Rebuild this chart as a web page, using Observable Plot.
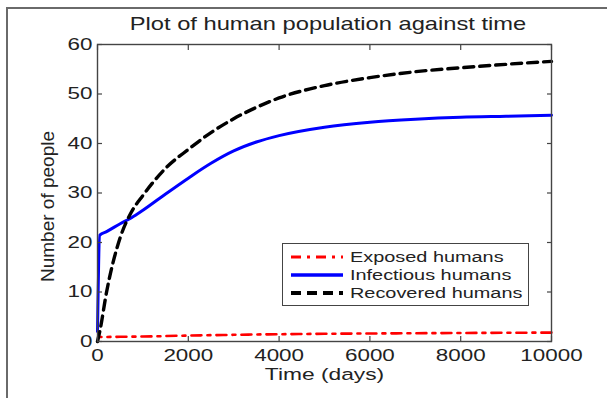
<!DOCTYPE html>
<html><head><meta charset="utf-8">
<script src="https://cdn.jsdelivr.net/npm/d3@7"></script>
<script src="https://cdn.jsdelivr.net/npm/@observablehq/plot@0.6"></script>
<style>
body{margin:0;background:#fff;}
#wrap{position:relative;width:607px;height:398px;overflow:hidden;font-family:"Liberation Sans",Arial,sans-serif;color:#222;}
#frame{position:absolute;left:6px;top:7px;width:640px;height:420px;border-top:2px solid #6a6a6a;border-left:2px solid #6a6a6a;}
#title{position:absolute;left:0;width:656px;top:16px;text-align:center;font-size:17.7px;line-height:17.7px;white-space:nowrap;transform-origin:328px 50%;transform:scaleX(1.34);}
#chart{position:absolute;left:0;top:0;}
#legend{position:absolute;left:282px;top:243px;width:247px;height:63px;box-sizing:border-box;border:1.3px solid #444;background:#fff;}
.sample{position:absolute;left:7px;width:54px;height:8px;}
.ltext{position:absolute;left:67px;font-size:14px;line-height:14px;white-space:nowrap;transform-origin:0 50%;transform:scaleX(1.42);}
</style></head>
<body>
<div id="wrap">
<div id="frame"></div>
<div id="chart"></div>
<div id="title"></div>
<div id="legend"></div>
</div>
<script>
const titleText = "Plot of human population against time";
const xLabel = "Time (days)";
const yLabel = "Number of people";
const seriesNames = ["Exposed humans", "Infectious humans", "Recovered humans"];
const xTicks = [0, 2000, 4000, 6000, 8000, 10000];
const yTicks = [0, 10, 20, 30, 40, 50, 60];
const time = [0, 50, 200, 500, 750, 1000, 1500, 2000, 2500, 3000, 3500, 4000, 5000, 6000, 7000, 8000, 9000, 10000];
const exposed = [2.5, 0.9, 0.92, 0.95, 0.98, 1.0, 1.1, 1.2, 1.28, 1.35, 1.42, 1.47, 1.56, 1.62, 1.67, 1.72, 1.76, 1.8];
const infectious = [2, 21.5, 22.2, 23.8, 25.0, 26.5, 29.8, 33.0, 36.0, 38.5, 40.3, 41.6, 43.3, 44.3, 44.9, 45.3, 45.5, 45.7];
const recovered = [0, 2, 10, 21, 26.2, 29.5, 35, 38.8, 42.2, 45, 47.3, 49.2, 51.7, 53.3, 54.5, 55.3, 56.0, 56.6];

const styles = [
  {stroke: "#ff0000", strokeWidth: 2.6, dash: "10,6,3,6"},
  {stroke: "#0000ff", strokeWidth: 3, dash: null},
  {stroke: "#000000", strokeWidth: 3.4, dash: "10,6"}
];
const seriesVals = [exposed, infectious, recovered];
const data = seriesVals.flatMap((vals, i) => time.map((t, j) => ({t, v: vals[j], s: seriesNames[i]})));

const lineMarks = seriesNames.map((name, i) =>
  Plot.line(data.filter(d => d.s === name), {x: "t", y: "v", curve: "monotone-x", stroke: styles[i].stroke, strokeWidth: styles[i].strokeWidth, strokeDasharray: styles[i].dash})
);
const axisColor = "#444";
const blank = () => "";
const plot = Plot.plot({
  width: 607, height: 398,
  marginLeft: 97, marginRight: 56, marginTop: 44, marginBottom: 57,
  style: {fontFamily: "'Liberation Sans', Arial, sans-serif", fontSize: "16px", color: "#222", background: "transparent", overflow: "visible"},
  x: {domain: [0, 10000]},
  y: {domain: [0, 60]},
  marks: [
    ...lineMarks,
    Plot.frame({stroke: axisColor, strokeWidth: 1.4}),
    Plot.axisX(xTicks, {anchor: "bottom", tickSize: 5, dy: -5, tickFormat: blank, label: null, stroke: axisColor, strokeWidth: 1.2}),
    Plot.axisX(xTicks, {anchor: "top", tickSize: 5, dy: 5, tickFormat: blank, label: null, stroke: axisColor, strokeWidth: 1.2}),
    Plot.axisY(yTicks, {anchor: "left", tickSize: 5, dx: 5, tickFormat: blank, label: null, stroke: axisColor, strokeWidth: 1.2}),
    Plot.axisY(yTicks, {anchor: "right", tickSize: 5, dx: -5, tickFormat: blank, label: null, stroke: axisColor, strokeWidth: 1.2}),
    Plot.axisX(xTicks, {anchor: "bottom", tickSize: 0, tickPadding: 8, tickFormat: d => String(d), label: null, fontSize: 16, fill: "#222"}),
    Plot.axisY(yTicks, {anchor: "left", tickSize: 0, tickPadding: 5, tickFormat: d => String(d), label: null, fontSize: 16, fill: "#222"}),
    Plot.text([xLabel], {frameAnchor: "bottom", textAnchor: "middle", lineAnchor: "middle", dy: 33, fontSize: 17, fill: "#222"}),
    Plot.text([yLabel], {frameAnchor: "left", textAnchor: "middle", lineAnchor: "middle", dx: -50, dy: 13.5, rotate: -90, fontSize: 19, fill: "#222"})
  ]
});
// horizontal stretch of the text, as in the reference rendering
plot.querySelectorAll("text").forEach(t => {
  const content = t.textContent;
  if (!content || content === yLabel) return;
  const sx = content === xLabel ? 1.34 : 1.4;
  const tr = t.getAttribute("transform");
  if (tr) t.setAttribute("transform", tr + ` scale(${sx},1)`);
  else {
    const x = +t.getAttribute("x") || 0, y = +t.getAttribute("y") || 0;
    t.removeAttribute("x"); t.removeAttribute("y");
    t.setAttribute("transform", `translate(${x},${y}) scale(${sx},1)`);
  }
});
document.getElementById("chart").appendChild(plot);
document.getElementById("title").textContent = titleText;

const legend = document.getElementById("legend");
const centers = [13, 31, 49];
seriesNames.forEach((name, i) => {
  const s = styles[i];
  const svg = document.createElementNS("http://www.w3.org/2000/svg", "svg");
  svg.setAttribute("class", "sample");
  svg.style.top = (centers[i] - 4) + "px";
  const ln = document.createElementNS("http://www.w3.org/2000/svg", "line");
  ln.setAttribute("x1", 1); ln.setAttribute("x2", 53); ln.setAttribute("y1", 4); ln.setAttribute("y2", 4);
  ln.setAttribute("stroke", s.stroke); ln.setAttribute("stroke-width", s.strokeWidth + 0.6);
  if (s.dash) ln.setAttribute("stroke-dasharray", s.dash);
  svg.appendChild(ln);
  legend.appendChild(svg);
  const sp = document.createElement("div");
  sp.className = "ltext";
  sp.style.top = (centers[i] - 7) + "px";
  sp.textContent = name;
  legend.appendChild(sp);
});
</script>
</body></html>
